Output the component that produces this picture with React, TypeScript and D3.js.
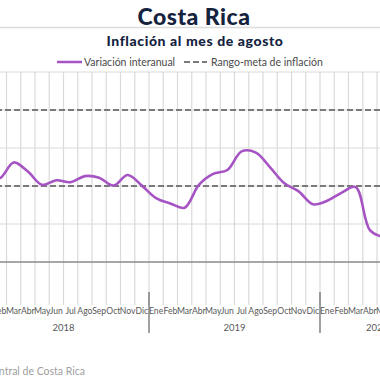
import React from "react";
import * as d3 from "d3";

const MONTHS = ["Ene","Feb","Mar","Abr","May","Jun","Jul","Ago","Sep","Oct","Nov","Dic"];
const YEARS = ["2018","2019","2020"];
const MONTHS_PER_YEAR = [12, 12, 8];
// Variación interanual (%), Ene 2018 – Ago 2020
const VALUES_2018 = [2.40, 2.20, 2.62, 2.38, 2.03, 2.15, 2.10, 2.26, 2.22, 2.01, 2.29, 2.01];
const VALUES_2019 = [1.68, 1.54, 1.43, 2.03, 2.32, 2.42, 2.91, 2.88, 2.49, 2.07, 1.86, 1.52];
const VALUES_2020 = [1.61, 1.82, 1.97, 0.84, 0.62, 0.25, 0.40, 0.45];
const TARGET_RANGE = [2, 4];
const Y_TICKS = [0, 1, 2, 3, 4, 5];

const TITLE = "Costa Rica";
const SUBTITLE = "Inflación al mes de agosto";
const LEGEND = ["Variación interanual", "Rango-meta de inflación"];
const SOURCE = "Fuente: Banco Central de Costa Rica";

const FONT = "Lato, 'Open Sans', sans-serif";
const PURPLE = "#a653c4";
const NAVY = "#15233f";

export default function App() {
  const allValues = [...VALUES_2018, ...VALUES_2019, ...VALUES_2020];
  const labels: { m: string; i: number }[] = [];
  const yearSpans: { year: string; start: number; end: number }[] = [];
  let idx = 0;
  YEARS.forEach((yr, k) => {
    const start = idx;
    for (let m = 0; m < MONTHS_PER_YEAR[k]; m++) {
      labels.push({ m: MONTHS[m], i: idx });
      idx++;
    }
    yearSpans.push({ year: yr, start, end: idx });
  });
  const n = allValues.length;

  const x = d3.scaleBand<number>().domain(d3.range(n)).range([-22, 434]).padding(0);
  const bw = x.bandwidth();
  const y = d3.scaleLinear().domain([0, 5]).range([262, 72]);
  const xc = (i: number) => (x(i) as number) + bw / 2;
  const xb = (i: number) => (i < n ? (x(i) as number) : (x(n - 1) as number) + bw);

  const line = d3
    .line<number>()
    .x((_, i) => xc(i))
    .y((d) => y(d))
    .curve(d3.curveCatmullRom.alpha(0.5));

  const plotLeft = -22;
  const plotRight = 434;

  return (
    <svg
      width={380}
      height={380}
      style={{ position: "fixed", left: 0, top: 0, background: "#fff" }}
      fontFamily={FONT}
    >
      <rect x={0} y={0} width={380} height={380} fill="#fff" />
      {/* title */}
      <text x={194} y={25} textAnchor="middle" fontSize={23} fontWeight={900} letterSpacing={0.5} fill={NAVY}>
        {TITLE}
      </text>
      <line x1={0} x2={380} y1={27.5} y2={27.5} stroke="#dcdcdc" strokeWidth={1.5} />
      <text x={195} y={46} textAnchor="middle" fontSize={14} fontWeight={900} letterSpacing={0.6} fill={NAVY}>
        {SUBTITLE}
      </text>
      {/* legend */}
      <line x1={57} x2={82} y1={62} y2={62} stroke={PURPLE} strokeWidth={2.5} />
      <text x={84} y={65.5} fontSize={10.5} fill="#4a4a4a">{LEGEND[0]}</text>
      <line x1={184} x2={207} y1={62} y2={62} stroke="#7a7a7a" strokeWidth={2} strokeDasharray="6,3" />
      <text x={211} y={65.5} fontSize={10.5} fill="#4a4a4a">{LEGEND[1]}</text>

      {/* horizontal gridlines */}
      {Y_TICKS.filter((t) => t > 0).map((t) => (
        <line key={"h" + t} x1={plotLeft} x2={plotRight} y1={y(t)} y2={y(t)} stroke="#dadada" strokeWidth={1} />
      ))}
      {/* vertical gridlines / ticks */}
      {d3.range(n + 1).map((i) => (
        <line key={"v" + i} x1={xb(i)} x2={xb(i)} y1={y(5)} y2={305} stroke="#dadada" strokeWidth={1.2} />
      ))}
      {/* year separators */}
      {yearSpans.slice(1).map((s) => (
        <line key={"s" + s.year} x1={xb(s.start)} x2={xb(s.start)} y1={292} y2={333} stroke="#6e6e6e" strokeWidth={1.3} />
      ))}
      {/* target range */}
      {TARGET_RANGE.map((t) => (
        <line key={"t" + t} x1={plotLeft} x2={plotRight} y1={y(t)} y2={y(t)} stroke="#7a7a7a" strokeWidth={2} strokeDasharray="6,3" />
      ))}
      {/* x axis */}
      <line x1={plotLeft} x2={plotRight} y1={y(0)} y2={y(0)} stroke="#8a8a8a" strokeWidth={1.3} />
      {/* series */}
      <path d={line(allValues) || ""} fill="none" stroke={PURPLE} strokeWidth={2.6} strokeLinejoin="round" />

      {/* month labels */}
      {labels.map((l) => (
        <text key={"m" + l.i} x={xc(l.i)} y={314} textAnchor="middle" fontSize={8.6} fill="#595959">
          {l.m}
        </text>
      ))}
      {yearSpans.map((s) => (
        <text key={"y" + s.year} x={(xb(s.start) + xb(s.end)) / 2} y={331} textAnchor="middle" fontSize={9.5} fill="#595959">
          {s.year}
        </text>
      ))}
      <text x={85} y={375} textAnchor="end" fontSize={10.5} fill="#a0a0a0">
        {SOURCE}
      </text>
    </svg>
  );
}
